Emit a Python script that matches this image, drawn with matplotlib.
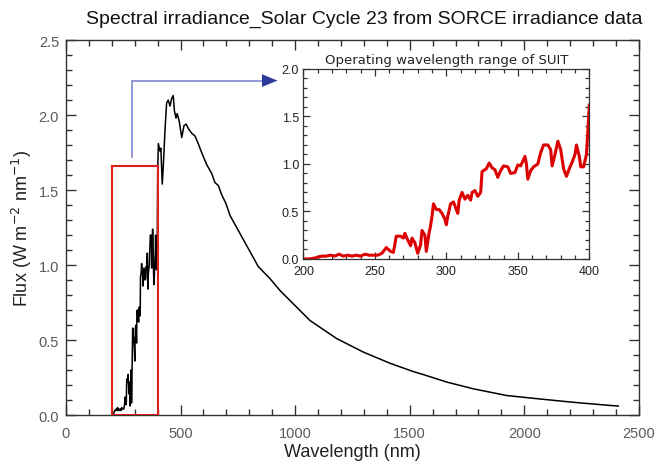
import numpy as np
import matplotlib
matplotlib.use("Agg")
import matplotlib.pyplot as plt
from matplotlib.patches import Rectangle
from matplotlib.ticker import MultipleLocator

plt.rcParams['font.family'] = ['Liberation Sans', 'DejaVu Sans']

# UV part of the spectrum (shown in the inset, 200-400 nm)
uv_wl = [200, 204, 208, 210, 213, 216, 219, 222, 225, 228, 231, 234, 237, 240,
         243, 246, 249, 252, 255, 258, 261, 263, 265, 268, 270, 271, 273, 275,
         276, 278, 280, 282, 283, 285, 286, 288, 289, 290, 291, 293, 295, 297,
         299, 300, 301, 303, 305, 307, 308, 309, 311, 313, 315, 317, 318, 320,
         322, 324, 325, 328, 330, 332, 334, 336, 338, 340, 343, 345, 348, 350,
         352, 355, 356, 357, 359, 361, 364, 366, 368, 371, 373, 374, 376, 378,
         380, 382, 384, 386, 388, 390, 391, 393, 394, 396, 398, 399, 400]
uv_flux = [0.0, 0.0, 0.01, 0.02, 0.03, 0.03, 0.04, 0.03, 0.05, 0.03, 0.04, 0.03,
           0.04, 0.03, 0.05, 0.04, 0.04, 0.04, 0.06, 0.12, 0.08, 0.07, 0.24, 0.24,
           0.22, 0.27, 0.20, 0.14, 0.22, 0.17, 0.06, 0.15, 0.30, 0.25, 0.08, 0.28,
           0.35, 0.45, 0.58, 0.52, 0.52, 0.48, 0.42, 0.36, 0.45, 0.58, 0.60, 0.52,
           0.48, 0.62, 0.70, 0.63, 0.67, 0.62, 0.70, 0.72, 0.66, 0.70, 0.92, 0.95,
           1.01, 0.96, 0.94, 0.86, 0.93, 0.98, 0.97, 0.90, 0.91, 0.99, 0.98, 1.08,
           1.00, 0.84, 0.93, 0.97, 1.00, 1.12, 1.20, 1.20, 1.15, 0.98, 1.10, 1.24,
           1.15, 0.95, 0.87, 0.95, 1.02, 1.10, 1.20, 1.08, 0.97, 0.97, 1.10, 1.35,
           1.62]

# visible / IR part (400-2400 nm)
vis_wl = [403, 410, 414, 420, 425, 432, 439, 446, 454, 461, 468, 473, 480, 485,
          494, 505, 515, 524, 534, 548, 563, 577, 592, 614, 636, 650, 665, 679,
          698, 716, 745, 774, 839, 890, 934, 1065, 1181, 1297, 1414, 1515, 1559,
          1661, 1777, 1923, 2068, 2213, 2373, 2410]
vis_flux = [1.81, 1.76, 1.78, 1.54, 1.67, 1.90, 2.08, 2.10, 2.06, 2.11, 2.13,
            2.03, 1.98, 2.01, 1.96, 1.85, 1.93, 1.94, 1.91, 1.88, 1.86, 1.81,
            1.75, 1.67, 1.61, 1.55, 1.53, 1.47, 1.41, 1.33, 1.25, 1.17, 0.99,
            0.91, 0.83, 0.63, 0.51, 0.42, 0.345, 0.29, 0.27, 0.22, 0.175, 0.13,
            0.107, 0.085, 0.064, 0.06]

wl = uv_wl + vis_wl
flux = uv_flux + vis_flux

box_top = 1.66          # height of red box
arrow_x = 290           # blue connector
arrow_y = 2.23
arrow_end = 935

tick_grey = '#5a5a5a'

fig = plt.figure(figsize=(6.6, 4.64), dpi=100)
ax = fig.add_axes([0.1, 0.1034, 0.868, 0.808])
ax.plot(wl, flux, color='black', lw=1.1)
ax.set_xlim(0, 2500)
ax.set_ylim(0, 2.5)
ax.xaxis.set_major_locator(MultipleLocator(500))
ax.xaxis.set_minor_locator(MultipleLocator(100))
ax.yaxis.set_major_locator(MultipleLocator(0.5))
ax.yaxis.set_minor_locator(MultipleLocator(0.1))
ax.yaxis.set_major_formatter(plt.FormatStrFormatter('%.1f'))
ax.tick_params(which='both', direction='in', top=True, right=True,
               colors='#333333', labelcolor=tick_grey, labelsize=10.5)
ax.tick_params(which='major', length=7, width=1)
ax.tick_params(which='minor', length=4, width=1)
ax.tick_params(axis='x', which='major', pad=8)
ax.tick_params(axis='y', which='major', pad=5)
for s in ax.spines.values():
    s.set_color('#333333')
    s.set_linewidth(1.0)
ax.set_xlabel('Wavelength (nm)', fontsize=13, color='#222222', labelpad=2)
ax.set_ylabel('Flux (W m$^{-2}$ nm$^{-1}$)', fontsize=13, color='#222222',
              labelpad=3)

# red box marking the SUIT range
ax.add_patch(Rectangle((uv_wl[0], 0), uv_wl[-1] - uv_wl[0], box_top,
                       fill=False, edgecolor='#e0201a', lw=1.5, zorder=4))

# connector arrow to the inset
ax.plot([arrow_x, arrow_x, arrow_end - 60], [box_top + 0.06, arrow_y, arrow_y],
        color='#8b90d4', lw=1.3, solid_joinstyle='miter', zorder=3)
ax.annotate('', xy=(arrow_end, arrow_y), xytext=(arrow_end - 70, arrow_y),
            arrowprops=dict(arrowstyle='-|>,head_length=1.1,head_width=0.45',
                            color='#2b3a9c', lw=0.1))

fig.text(0.552, 0.958, 'Spectral irradiance_Solar Cycle 23 from SORCE irradiance data',
         ha='center', va='center', fontsize=14, color='#111111')

# inset
ins = fig.add_axes([0.4596, 0.4397, 0.4333, 0.4095])
ins.plot(uv_wl, uv_flux, color='#dd0000', lw=2.2)
ins.set_xlim(200, 400)
ins.set_ylim(0, 2.0)
ins.xaxis.set_major_locator(MultipleLocator(50))
ins.xaxis.set_minor_locator(MultipleLocator(10))
ins.yaxis.set_major_locator(MultipleLocator(0.5))
ins.yaxis.set_minor_locator(MultipleLocator(0.1))
ins.yaxis.set_major_formatter(plt.FormatStrFormatter('%.1f'))
ins.tick_params(which='both', direction='in', top=True, right=True,
                colors='#333333', labelcolor='#222222', labelsize=9)
ins.tick_params(which='major', length=5, width=0.9)
ins.tick_params(which='minor', length=3, width=0.9)
ins.tick_params(axis='x', pad=4)
ins.tick_params(axis='y', pad=3)
for s in ins.spines.values():
    s.set_color('#333333')
    s.set_linewidth(0.9)
ins.set_title('Operating wavelength range of SUIT', fontsize=9.5,
              color='#222222', pad=4, family='DejaVu Sans')

fig.savefig('out.png', dpi=100)
